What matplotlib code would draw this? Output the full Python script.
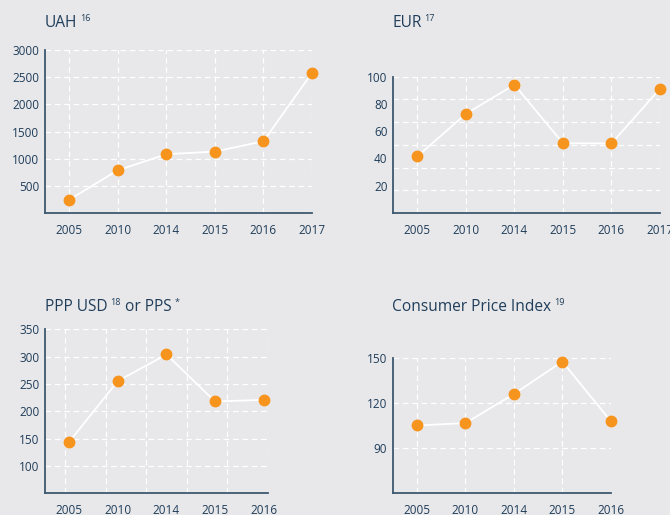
import numpy as np
import matplotlib.pyplot as plt

plt.rcParams['font.family'] = ['Open Sans', 'DejaVu Sans']

# data
years_6 = ['2005', '2010', '2014', '2015', '2016', '2017']
years_5 = ['2005', '2010', '2014', '2015', '2016']

uah = [246, 787, 1082, 1131, 1321, 2581]
eur = [41.5, 72.7, 94.1, 51.2, 51.0, 91.2]
ppp = [144.5, 255.5, 304, 218, 221]
cpi = [105, 106.6, 126, 147.8, 108]

uah_ticks = [500, 1000, 1500, 2000, 2500, 3000]
eur_ticks = [20, 40, 60, 80, 100]
ppp_ticks = [100, 150, 200, 250, 300, 350]
cpi_ticks = [90, 120, 150]

bg = '#e8e8ea'
navy = '#1f3d5a'
spine_c = '#3d5871'
orange = '#f7941d'

fig = plt.figure(figsize=(6.7, 5.15), dpi=100)
fig.patch.set_facecolor(bg)


def panel(rect, labels, values, ylim, yticks, ygrid, xlim, xgrid):
    ax = fig.add_axes(rect)
    ax.set_facecolor(bg)
    x = np.arange(len(labels))
    ax.plot(x, values, color='white', lw=1.3, zorder=3, clip_on=False)
    ax.plot(x, values, 'o', color=orange, ms=7.5, mec=orange, zorder=4,
            clip_on=False)
    ax.set_xlim(*xlim)
    ax.set_ylim(*ylim)
    ax.set_xticks(x)
    ax.set_xticklabels(labels)
    ax.set_yticks(yticks)
    # grid lines sit on minor ticks (they don't always line up with labels)
    ax.xaxis.remove_overlapping_locs = False
    ax.yaxis.remove_overlapping_locs = False
    ax.set_xticks(xgrid, minor=True)
    ax.set_yticks(ygrid, minor=True)
    ax.tick_params(which='both', length=0, colors=navy, labelsize=8.5)
    ax.tick_params(axis='x', pad=8)
    ax.tick_params(axis='y', pad=4)
    ax.grid(which='minor', color='white', lw=0.9, ls=(0, (4.5, 3)))
    ax.grid(which='major', visible=False)
    for s in ['top', 'right']:
        ax.spines[s].set_visible(False)
    for s in ['left', 'bottom']:
        ax.spines[s].set_color(spine_c)
        ax.spines[s].set_linewidth(1.3)
        ax.spines[s].set_zorder(5)
    return ax


# UAH
panel([0.0672, 0.5864, 0.3985, 0.3165], years_6, uah, (0, 3000), uah_ticks,
      uah_ticks, (-0.5, 5), np.arange(6))
# EUR
panel([0.5866, 0.5864, 0.3985, 0.2647], years_6, eur, (0, 100), eur_ticks,
      [100 / 6 * k for k in range(1, 7)], (-0.5, 5), np.arange(6))
# PPP
panel([0.0672, 0.0421, 0.3328, 0.3184], years_5, ppp, (50, 350), ppp_ticks,
      ppp_ticks, (-0.5, 4.09), [-0.5 + (0.5 + k) * 4.59 / 5.5 for k in range(6)])
# CPI
panel([0.5861, 0.0433, 0.3254, 0.2610], years_5, cpi, (60, 150), cpi_ticks,
      cpi_ticks, (-0.5, 4), np.arange(5))

# titles with superscript footnote marks
titles = [
    (45, 27, [('UAH', False), ('16', True)]),
    (392, 27, [('EUR', False), ('17', True)]),
    (45, 311, [('PPP USD', False), ('18', True), (' or PPS', False), ('*', True)]),
    (392, 311, [('Consumer Price Index', False), ('19', True)]),
]
for px, py, parts in titles:
    prev = None
    base = None
    for txt, sup in parts:
        if prev is None:
            t = fig.text(px / 670, 1 - py / 515, txt, fontsize=11.2,
                         color=navy, ha='left', va='baseline')
            base = t
        elif sup:
            t = fig.add_artist(plt.Annotation(
                txt, xy=(1, 1), xycoords=(prev, base), xytext=(2, 0.5),
                textcoords='offset points', fontsize=6.5, color=navy,
                ha='left', va='top'))
        else:
            t = fig.add_artist(plt.Annotation(
                txt, xy=(1, 0), xycoords=(prev, base), fontsize=11.2,
                color=navy, ha='left', va='bottom'))
        prev = t

fig.savefig('out.png', dpi=100, facecolor=bg)
